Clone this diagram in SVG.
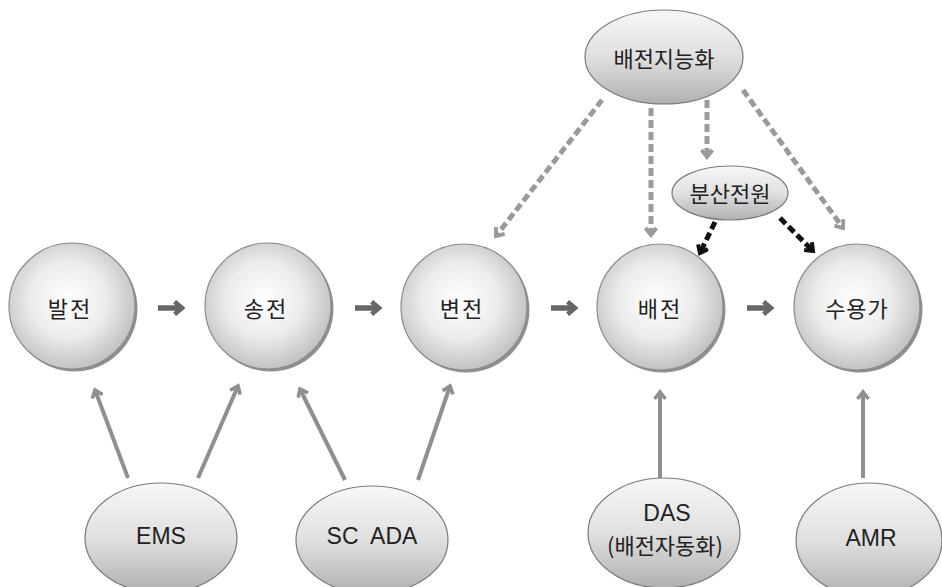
<svg xmlns="http://www.w3.org/2000/svg" width="942" height="587" viewBox="0 0 942 587">
<defs>
  <radialGradient id="gCircle" cx="0.47" cy="0.45" r="0.6">
    <stop offset="0" stop-color="#ffffff"/>
    <stop offset="0.5" stop-color="#ececec"/>
    <stop offset="1" stop-color="#bababa"/>
  </radialGradient>
  <linearGradient id="gEll" x1="0" y1="0" x2="0" y2="1">
    <stop offset="0" stop-color="#f7f7f7"/>
    <stop offset="0.5" stop-color="#e0e0e0"/>
    <stop offset="1" stop-color="#b0b0b0"/>
  </linearGradient>
  <marker id="mGray" viewBox="0 0 14 14" refX="11" refY="7" markerWidth="14" markerHeight="14" markerUnits="userSpaceOnUse" orient="auto">
    <path d="M4,1.5 L11,7 L4,12.5" fill="none" stroke="#8f8f8f" stroke-width="3.6" stroke-dasharray="none" stroke-linejoin="miter"/>
  </marker>
  <marker id="mDash" viewBox="0 0 14 14" refX="11" refY="7" markerWidth="14" markerHeight="14" markerUnits="userSpaceOnUse" orient="auto">
    <path d="M4,1.5 L11,7 L4,12.5" fill="none" stroke="#9a9a9a" stroke-width="3.8" stroke-dasharray="none"/>
  </marker>
  <marker id="mBlack" viewBox="0 0 14 14" refX="11" refY="7" markerWidth="14" markerHeight="14" markerUnits="userSpaceOnUse" orient="auto">
    <path d="M4,1.5 L11,7 L4,12.5" fill="none" stroke="#111111" stroke-width="4" stroke-dasharray="none"/>
  </marker>
  <marker id="mDark" viewBox="0 0 14 14" refX="11" refY="7" markerWidth="16" markerHeight="16" markerUnits="userSpaceOnUse" orient="auto">
    <path d="M4.5,1.5 L11,7 L4.5,12.5" fill="none" stroke="#666666" stroke-width="4" stroke-dasharray="none"/>
  </marker>
</defs>
<style>
  .shadow { fill: #8f8f8f; }
  .circ { fill: url(#gCircle); stroke: #8c8c8c; stroke-width: 1.2; }
  .ell { fill: url(#gEll); stroke: #7a7a7a; stroke-width: 1.2; }
  .lbl { font-family: "Noto Sans CJK KR", "Noto Sans", sans-serif; font-size: 22px; fill: #222222; text-anchor: middle; dominant-baseline: central; }
  .lat { font-family: "Liberation Sans", "Noto Sans CJK KR", sans-serif; font-size: 23px; fill: #222222; text-anchor: middle; dominant-baseline: central; }
  .solid { stroke: #8f8f8f; stroke-width: 4; fill: none; marker-end: url(#mGray); }
  .dashg { stroke: #9a9a9a; stroke-width: 5; fill: none; stroke-dasharray: 8 4; marker-end: url(#mDash); }
  .dashb { stroke: #111111; stroke-width: 5; fill: none; stroke-dasharray: 8 4; marker-end: url(#mBlack); }
  .flow { stroke: #666666; stroke-width: 5.5; fill: none; marker-end: url(#mDark); }
</style>
<rect width="942" height="587" fill="#ffffff"/>

<g id="connectors">
  <line class="flow" x1="158" y1="308" x2="182" y2="308"/>
  <line class="flow" x1="355" y1="308" x2="379" y2="308"/>
  <line class="flow" x1="551" y1="308" x2="575" y2="308"/>
  <line class="flow" x1="747" y1="308" x2="771" y2="308"/>

  <line class="dashg" x1="602" y1="100" x2="496" y2="236"/>
  <line class="dashg" x1="651" y1="108" x2="651" y2="235"/>
  <line class="dashg" x1="707" y1="100" x2="707" y2="157"/>
  <line class="dashg" x1="743" y1="90" x2="843" y2="228"/>

  <line class="dashb" x1="715" y1="222" x2="700" y2="253"/>
  <line class="dashb" x1="780" y1="218" x2="813" y2="251"/>

  <line class="solid" x1="128" y1="478" x2="95" y2="390"/>
  <line class="solid" x1="198" y1="478" x2="238" y2="386"/>
  <line class="solid" x1="345" y1="480" x2="300" y2="389"/>
  <line class="solid" x1="418" y1="480" x2="450" y2="386"/>
  <line class="solid" x1="660" y1="478" x2="660" y2="392"/>
  <line class="solid" x1="863" y1="478" x2="863" y2="392"/>
</g>

<g id="n-baljeon">
  <circle class="shadow" cx="74.5" cy="308.5" r="63"/>
  <circle class="circ" cx="72" cy="306" r="63"/>
  <text class="lbl" x="70" y="307" letter-spacing="2">발전</text>
</g>
<g id="n-songjeon">
  <circle class="shadow" cx="270.5" cy="308.5" r="63"/>
  <circle class="circ" cx="268" cy="306" r="63"/>
  <text class="lbl" x="266" y="307" letter-spacing="2">송전</text>
</g>
<g id="n-byeonjeon">
  <circle class="shadow" cx="466.5" cy="309.5" r="63"/>
  <circle class="circ" cx="464" cy="307" r="63"/>
  <text class="lbl" x="462" y="307" letter-spacing="2">변전</text>
</g>
<g id="n-baejeon">
  <circle class="shadow" cx="662.5" cy="309.5" r="63"/>
  <circle class="circ" cx="660" cy="307" r="63"/>
  <text class="lbl" x="660" y="307" letter-spacing="2">배전</text>
</g>
<g id="n-suyongga">
  <circle class="shadow" cx="859.5" cy="309.5" r="63"/>
  <circle class="circ" cx="857" cy="307" r="63"/>
  <text class="lbl" x="857" y="307" letter-spacing="1">수용가</text>
</g>

<g id="n-intel">
  <ellipse class="ell" cx="664" cy="57" rx="79" ry="47"/>
  <text class="lbl" x="664" y="57">배전지능화</text>
</g>
<g id="n-dist">
  <ellipse class="ell" cx="730" cy="193" rx="58" ry="27"/>
  <text class="lbl" x="730" y="192">분산전원</text>
</g>

<g id="n-ems">
  <ellipse class="ell" cx="161" cy="538" rx="76" ry="55"/>
  <text class="lat" x="161" y="536">EMS</text>
</g>
<g id="n-scada">
  <ellipse class="ell" cx="372" cy="540" rx="76" ry="54"/>
  <text class="lat" x="372" y="536" xml:space="preserve">SC  ADA</text>
</g>
<g id="n-das">
  <ellipse class="ell" cx="664" cy="533" rx="76" ry="55"/>
  <text class="lat" x="667" y="513">DAS</text>
  <text class="lbl" x="665" y="544">(배전자동화)</text>
</g>
<g id="n-amr">
  <ellipse class="ell" cx="869" cy="540" rx="73" ry="57"/>
  <text class="lat" x="871" y="538">AMR</text>
</g>
</svg>
